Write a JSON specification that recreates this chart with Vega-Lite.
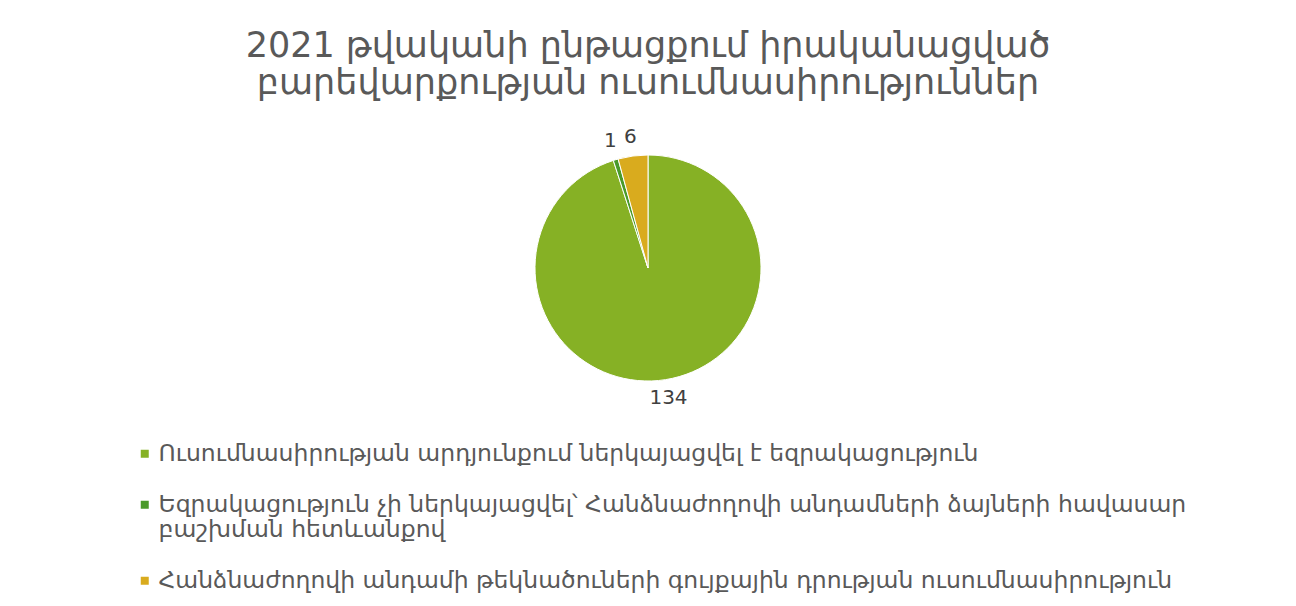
{
  "$schema": "https://vega.github.io/schema/vega-lite/v6.json",
  "width": 1296,
  "height": 276,
  "autosize": {"type": "none"},
  "padding": {"left": 0, "top": 130, "right": 0, "bottom": 200},
  "background": "white",
  "title": {
    "text": ["2021 թվականի ընթացքում իրականացված", "բարեվարքության ուսումնասիրություններ"],
    "font": "DejaVu Sans",
    "fontSize": 35,
    "fontWeight": "normal",
    "color": "#595959",
    "lineHeight": 37,
    "anchor": "middle",
    "offset": 26
  },
  "data": {
    "values": [
      {"category": "Ուսումնասիրության արդյունքում ներկայացվել է եզրակացություն", "count": 134, "idx": 1},
      {"category": "Եզրակացություն չի ներկայացվել՝ Հանձնաժողովի անդամների ձայների հավասար բաշխման հետևանքով", "count": 1, "idx": 2},
      {"category": "Հանձնաժողովի անդամի թեկնածուների գույքային դրության ուսումնասիրություն", "count": 6, "idx": 3}
    ]
  },
  "encoding": {
    "theta": {"field": "count", "type": "quantitative", "stack": true},
    "order": {"field": "idx", "type": "quantitative"}
  },
  "layer": [
    {
      "mark": {"type": "arc", "outerRadius": 113, "stroke": "white", "strokeWidth": 1},
      "encoding": {
        "color": {
          "field": "category",
          "type": "nominal",
          "sort": null,
          "scale": {
            "domain": [
              "Ուսումնասիրության արդյունքում ներկայացվել է եզրակացություն",
              "Եզրակացություն չի ներկայացվել՝ Հանձնաժողովի անդամների ձայների հավասար բաշխման հետևանքով",
              "Հանձնաժողովի անդամի թեկնածուների գույքային դրության ուսումնասիրություն"
            ],
            "range": ["#86B125", "#4A9A2A", "#D9AB1E"]
          },
          "legend": {
            "title": null,
            "orient": "none",
            "legendX": 133,
            "legendY": 312,
            "direction": "vertical",
            "symbolType": "square",
            "symbolSize": 64,
            "symbolStrokeWidth": 0,
            "labelFont": "DejaVu Sans",
            "labelFontSize": 23.5,
            "labelColor": "#595959",
            "labelLimit": 1200,
            "labelOffset": 2,
            "rowPadding": 26,
            "labelExpr": "datum.label == 'Եզրակացություն չի ներկայացվել՝ Հանձնաժողովի անդամների ձայների հավասար բաշխման հետևանքով' ? ['Եզրակացություն չի ներկայացվել՝ Հանձնաժողովի անդամների ձայների հավասար', 'բաշխման հետևանքով'] : datum.label"
          }
        }
      }
    },
    {
      "mark": {"type": "text", "radius": 132, "font": "DejaVu Sans", "fontSize": 20, "color": "#404040"},
      "encoding": {
        "text": {"field": "count", "type": "quantitative"}
      }
    }
  ]
}
